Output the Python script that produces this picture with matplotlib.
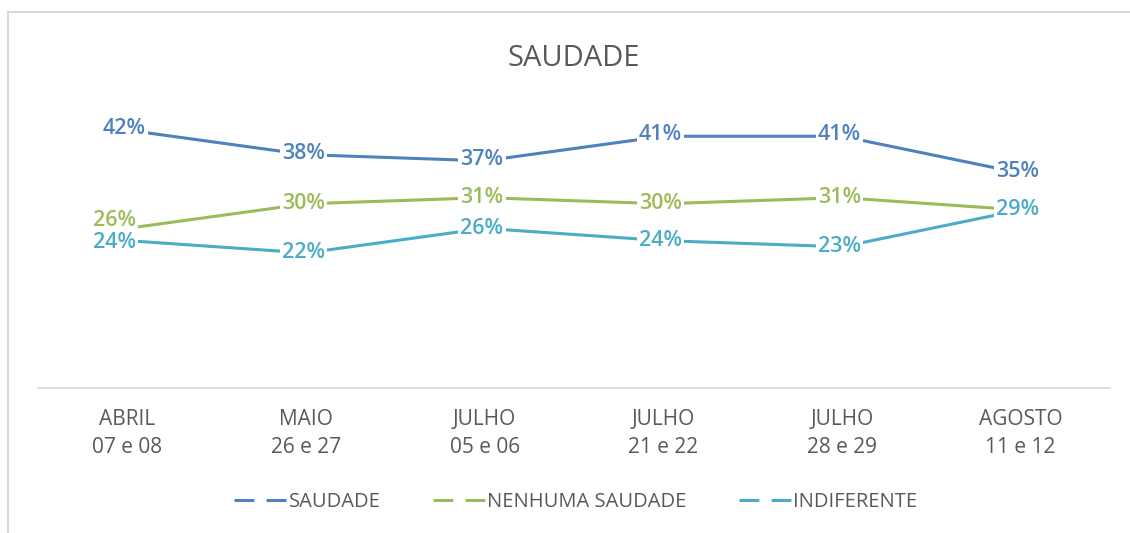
#!/usr/bin/env python3
import matplotlib
matplotlib.use('Agg')
import matplotlib.pyplot as plt
from matplotlib.lines import Line2D

categories = ['ABRIL\n07 e 08', 'MAIO\n26 e 27', 'JULHO\n05 e 06',
              'JULHO\n21 e 22', 'JULHO\n28 e 29', 'AGOSTO\n11 e 12']
series_names = ['SAUDADE', 'NENHUMA SAUDADE', 'INDIFERENTE']
saudade = [42, 38, 37, 41, 41, 35]
nenhuma = [26, 30, 31, 30, 31, 29]
indiferente = [24, 22, 26, 24, 23, 29]

colors = ['#4F81BD', '#9BBB59', '#4BACC6']
text_gray = '#595959'
# label offsets in points, first point of the lower two series sits left
offsets = [
    [(-2, 1)] * 6,
    [(-9, 6)] + [(-2, 0)] * 5,
    [(-9, -1)] + [(-2, 0)] * 5,
]


def plot_saudade():
    plt.rcParams['font.family'] = ['Open Sans', 'DejaVu Sans']
    fig = plt.figure(figsize=(11.3, 5.33), dpi=100, facecolor='w')
    ax = fig.add_axes([38/1130, 1-388/533, 1072/1130, 307/533])
    x = list(range(len(categories)))

    handles = []
    for name, values, color, offs in zip(series_names, [saudade, nenhuma, indiferente], colors, offsets):
        ax.plot(x, [v/100 for v in values], color=color, linewidth=2.2, solid_capstyle='round', zorder=2)
        for xi, v, off in zip(x, values, offs):
            ax.annotate('%d%%' % v, (xi, v/100), xytext=off, textcoords='offset points',
                        ha='center', va='center', fontsize=15.5, fontweight='semibold', color=color,
                        bbox=dict(fc='white', ec='none', pad=1.5), zorder=3)
        handles.append(Line2D([0], [0], color=color, linewidth=2.2, linestyle=(0, (6.5, 4))))

    ax.set_xlim(-0.5, len(categories) - 0.5)
    ax.set_ylim(0, 0.5)
    ax.set_xticks(x)
    ax.set_xticklabels(categories, fontsize=15, color=text_gray, linespacing=1.45)
    ax.tick_params(axis='x', length=0, pad=15)
    ax.set_yticks([])
    for side in ['top', 'left', 'right']:
        ax.spines[side].set_visible(False)
    ax.spines['bottom'].set_color('#d9d9d9')
    ax.spines['bottom'].set_linewidth(1.2)

    fig.text(574/1130, 1-66/533, 'SAUDADE', ha='center', va='baseline', fontsize=21, color=text_gray)

    fig.legend(handles, series_names, loc='center', bbox_to_anchor=(576/1130, 1-502/533), ncol=3,
               frameon=False, fontsize=14.5, labelcolor=text_gray, handlelength=2.6,
               handletextpad=0.1, columnspacing=2.6)

    # chart border (image is cropped on right and bottom)
    fig.add_artist(Line2D([8/1130, 1], [1-12/533, 1-12/533], color='#d9d9d9', linewidth=1.5))
    fig.add_artist(Line2D([8/1130, 8/1130], [0, 1-12/533], color='#d9d9d9', linewidth=1.5))

    plt.savefig('out.png', dpi=100, facecolor='w')


def main():
    plot_saudade()


if __name__ == '__main__':
    main()
